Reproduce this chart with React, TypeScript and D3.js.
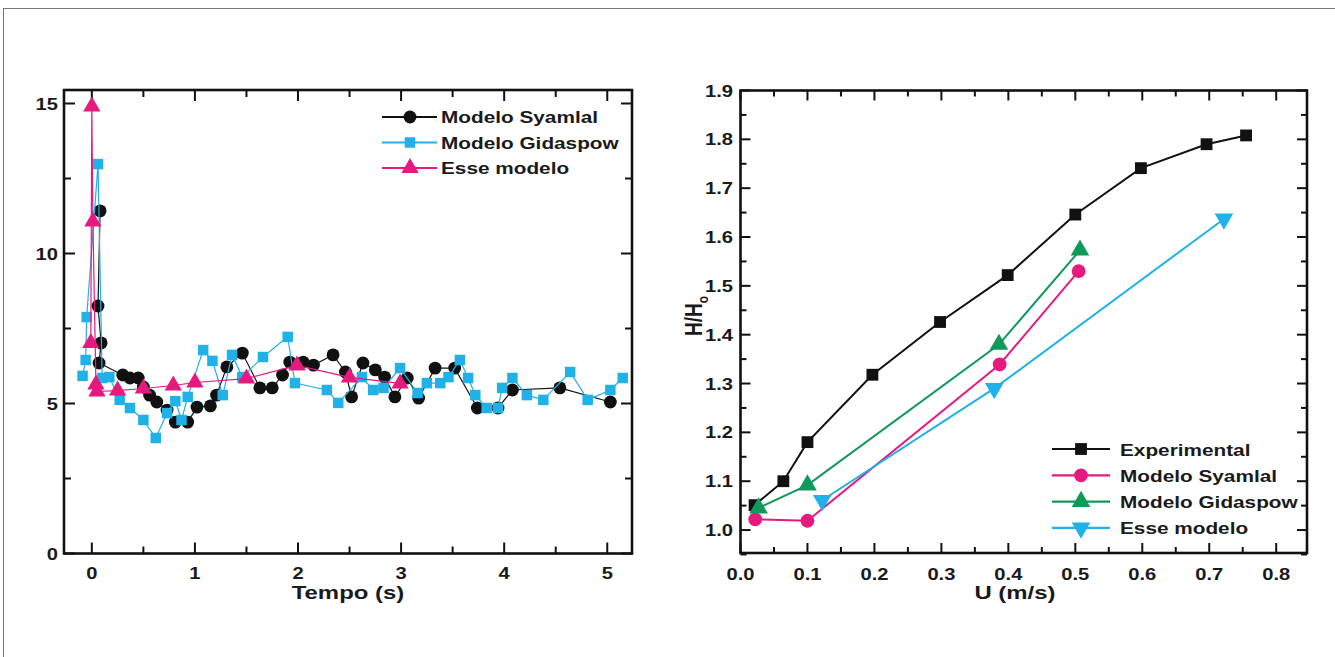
import React from "react";
import * as d3 from "d3";

// left panel: time series (Tempo, value)
const syamlalT = [
  [0.08, 11.42], [0.06, 8.25], [0.09, 7.02], [0.07, 6.35], [0.3, 5.95], [0.37, 5.85],
  [0.45, 5.85], [0.5, 5.55], [0.56, 5.28], [0.63, 5.05], [0.73, 4.78], [0.81, 4.38],
  [0.93, 4.38], [1.02, 4.88], [1.15, 4.92], [1.21, 5.28], [1.31, 6.22], [1.46, 6.68],
  [1.63, 5.52], [1.75, 5.52], [1.85, 5.95], [1.92, 6.38], [2.05, 6.38], [2.15, 6.28],
  [2.34, 6.62], [2.46, 6.05], [2.52, 5.22], [2.63, 6.35], [2.75, 6.12], [2.84, 5.88],
  [2.94, 5.22], [3.06, 5.85], [3.17, 5.18], [3.33, 6.18], [3.52, 6.18], [3.74, 4.85],
  [3.94, 4.85], [4.08, 5.45], [4.54, 5.52], [5.03, 5.05],
];
const gidaspowT = [
  [-0.09, 5.92], [-0.06, 6.45], [-0.05, 7.88], [0.06, 12.98], [0.1, 5.85], [0.17, 5.88],
  [0.27, 5.12], [0.37, 4.85], [0.5, 4.45], [0.62, 3.85], [0.73, 4.68], [0.81, 5.08],
  [0.87, 4.45], [0.93, 5.22], [1.08, 6.78], [1.17, 6.42], [1.27, 5.28], [1.36, 6.62],
  [1.46, 5.88], [1.66, 6.55], [1.9, 7.22], [1.97, 5.68], [2.28, 5.45], [2.39, 5.02],
  [2.62, 5.88], [2.73, 5.45], [2.83, 5.52], [2.99, 6.18], [3.16, 5.35], [3.25, 5.68],
  [3.38, 5.68], [3.46, 5.88], [3.57, 6.45], [3.65, 5.85], [3.72, 5.28], [3.83, 4.85],
  [3.94, 4.85], [3.98, 5.52], [4.08, 5.85], [4.22, 5.28], [4.38, 5.12], [4.64, 6.05],
  [4.81, 5.12], [5.03, 5.45], [5.15, 5.85],
];
const esseT = [
  [-0.01, 7.02], [0.0, 14.9], [0.01, 11.07], [0.04, 5.63], [0.05, 5.4], [0.25, 5.43],
  [0.5, 5.5], [0.79, 5.6], [1.0, 5.7], [1.5, 5.83], [1.99, 6.27], [2.5, 5.87], [2.99, 5.67],
];

// right panel: H/H0 vs U
const experimental = [
  [0.021, 1.051], [0.064, 1.1], [0.1, 1.18], [0.197, 1.318], [0.298, 1.426],
  [0.399, 1.522], [0.5, 1.646], [0.598, 1.741], [0.696, 1.79], [0.755, 1.808],
];
const syamlalU = [[0.022, 1.022], [0.1, 1.019], [0.387, 1.339], [0.505, 1.53]];
const gidaspowU = [[0.027, 1.045], [0.1, 1.092], [0.386, 1.38], [0.507, 1.573]];
const esseU = [[0.122, 1.061], [0.379, 1.29], [0.722, 1.637]];

const leftTicks = [0, 1, 2, 3, 4, 5];
const leftYTicks = [0, 5, 10, 15];
const rightXTicks = [0, 0.1, 0.2, 0.3, 0.4, 0.5, 0.6, 0.7, 0.8];
const rightYTicks = [1.0, 1.1, 1.2, 1.3, 1.4, 1.5, 1.6, 1.7, 1.8, 1.9];

const BLACK = "#111";
const CYAN = "#1fb1e8";
const PINK = "#e6197f";
const GREEN = "#10995a";
const FONT = "'Liberation Sans', Arial, Helvetica, sans-serif";
const SX = 1.26;

const lx = d3.scaleLinear().domain([-0.27, 5.24]).range([64, 632]);
const ly = d3.scaleLinear().domain([0, 15.45]).range([553.5, 90]);
const rx = d3.scaleLinear().domain([0, 0.846]).range([740.5, 1307]);
const ry = d3.scaleLinear().domain([0.953, 1.9]).range([553, 90.5]);

function T({ x, y, size, anchor = "middle", children, rotate = false }: any) {
  const tr = rotate
    ? `translate(${x},${y}) scale(${SX},1) rotate(-90)`
    : `translate(${x},${y}) scale(${SX},1)`;
  return (
    <text transform={tr} fontFamily={FONT} fontWeight="bold" fontSize={size} textAnchor={anchor} fill="#1a1a1a">
      {children}
    </text>
  );
}

function Marker({ type, x, y, color, size }: any) {
  const sym =
    type === "circle" ? d3.symbolCircle : type === "square" ? d3.symbolSquare : d3.symbolTriangle;
  const d = d3.symbol().type(sym).size(size)() as string;
  const rot = type === "down" ? " rotate(180)" : "";
  return <path d={d} transform={`translate(${x},${y})${rot}`} fill={color} />;
}

function Series({ data, xs, ys, color, type, size, width }: any) {
  const line = d3.line<number[]>().x((d) => xs(d[0])).y((d) => ys(d[1]));
  return (
    <g>
      <path d={line(data) as string} fill="none" stroke={color} strokeWidth={width} />
      {data.map((d: number[], i: number) => (
        <Marker key={i} type={type} x={xs(d[0])} y={ys(d[1])} color={color} size={size} />
      ))}
    </g>
  );
}

function Frame({ xs, ys, xMajor, xMinor, yMajor, yMinor, majLen, minLen }: any) {
  const [x0, x1] = xs.range();
  const [y0, y1] = ys.range();
  const ticks: any[] = [];
  xMajor.forEach((v: number) => ticks.push({ x: xs(v), len: majLen, dir: "x" }));
  xMinor.forEach((v: number) => ticks.push({ x: xs(v), len: minLen, dir: "x" }));
  yMajor.forEach((v: number) => ticks.push({ y: ys(v), len: majLen, dir: "y" }));
  yMinor.forEach((v: number) => ticks.push({ y: ys(v), len: minLen, dir: "y" }));
  return (
    <g stroke="#111" strokeWidth={2}>
      {ticks.map((t, i) =>
        t.dir === "x" ? (
          <g key={i}>
            <line x1={t.x} x2={t.x} y1={y0} y2={y0 - t.len} />
            <line x1={t.x} x2={t.x} y1={y1} y2={y1 + t.len} />
          </g>
        ) : (
          <g key={i}>
            <line x1={x0} x2={x0 + t.len} y1={t.y} y2={t.y} />
            <line x1={x1} x2={x1 - t.len} y1={t.y} y2={t.y} />
          </g>
        )
      )}
      <rect x={x0} y={y1} width={x1 - x0} height={y0 - y1} fill="none" strokeWidth={2.6} />
    </g>
  );
}

const leftLegend = [
  { name: "Modelo Syamlal", color: BLACK, type: "circle", size: 130 },
  { name: "Modelo Gidaspow", color: CYAN, type: "square", size: 110 },
  { name: "Esse modelo", color: PINK, type: "up", size: 130 },
];
const rightLegend = [
  { name: "Experimental", color: BLACK, type: "square", size: 140 },
  { name: "Modelo Syamlal", color: PINK, type: "circle", size: 150 },
  { name: "Modelo Gidaspow", color: GREEN, type: "up", size: 150 },
  { name: "Esse modelo", color: CYAN, type: "down", size: 150 },
];

export default function App() {
  const halfL = d3.range(-0, 5.5, 0.5).filter((v) => !Number.isInteger(v));
  const yMinL = [2.5, 7.5, 12.5];
  const xMinR = d3.range(0.05, 0.85, 0.1);
  const yMinR = d3.range(0.95, 1.9, 0.1).map((v) => +v.toFixed(2));
  return (
    <svg width={1335} height={657} style={{ position: "absolute", left: 0, top: 0, background: "#fff" }}>
      <rect x={3.5} y={8.5} width={1340} height={660} fill="none" stroke="#777" strokeWidth={1} />

      {/* left panel */}
      <Frame xs={lx} ys={ly} xMajor={leftTicks} xMinor={halfL} yMajor={leftYTicks} yMinor={yMinL} majLen={11} minLen={7} />
      {leftTicks.map((v) => (
        <T key={v} x={lx(v)} y={579} size={16}>{v}</T>
      ))}
      {leftYTicks.map((v) => (
        <T key={v} x={58} y={ly(v) + 6} size={16} anchor="end">{v}</T>
      ))}
      <T x={348} y={599} size={19}>Tempo (s)</T>
      <Series data={syamlalT} xs={lx} ys={ly} color={BLACK} type="circle" size={130} width={1.2} />
      <Series data={gidaspowT} xs={lx} ys={ly} color={CYAN} type="square" size={110} width={1.2} />
      <Series data={esseT} xs={lx} ys={ly} color={PINK} type="up" size={130} width={1.2} />
      {leftLegend.map((l, i) => {
        const y = 117 + i * 25.5;
        return (
          <g key={l.name}>
            <line x1={382} x2={437} y1={y} y2={y} stroke={l.color} strokeWidth={2} />
            <Marker type={l.type} x={410} y={y} color={l.color} size={l.size} />
            <T x={441} y={y + 6} size={16.5} anchor="start">{l.name}</T>
          </g>
        );
      })}

      {/* right panel */}
      <Frame xs={rx} ys={ry} xMajor={rightXTicks} xMinor={xMinR} yMajor={rightYTicks} yMinor={yMinR} majLen={10} minLen={6} />
      {rightXTicks.map((v) => (
        <T key={v} x={rx(v)} y={580} size={16}>{v.toFixed(1)}</T>
      ))}
      {rightYTicks.map((v) => (
        <T key={v} x={733} y={ry(v) + 6} size={16} anchor="end">{v.toFixed(1)}</T>
      ))}
      <T x={1015} y={599} size={19}>U (m/s)</T>
      <T x={702} y={316} size={19} rotate>
        H/H<tspan fontSize={12} dy={5}>o</tspan>
      </T>
      <Series data={experimental} xs={rx} ys={ry} color={BLACK} type="square" size={140} width={2} />
      <Series data={syamlalU} xs={rx} ys={ry} color={PINK} type="circle" size={150} width={2} />
      <Series data={gidaspowU} xs={rx} ys={ry} color={GREEN} type="up" size={150} width={2} />
      <Series data={esseU} xs={rx} ys={ry} color={CYAN} type="down" size={150} width={2} />
      {rightLegend.map((l, i) => {
        const y = 449 + i * 26.3;
        return (
          <g key={l.name}>
            <line x1={1052} x2={1110} y1={y} y2={y} stroke={l.color} strokeWidth={2.2} />
            <Marker type={l.type} x={1081} y={y} color={l.color} size={l.size} />
            <T x={1120} y={y + 6.5} size={16.5} anchor="start">{l.name}</T>
          </g>
        );
      })}
    </svg>
  );
}
